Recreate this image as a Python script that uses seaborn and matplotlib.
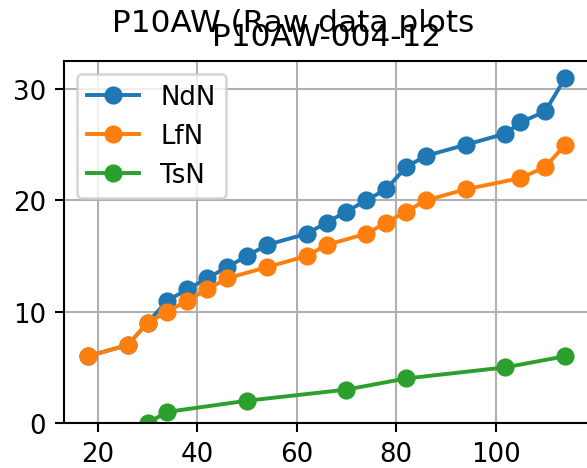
import matplotlib
matplotlib.use("Agg")
import matplotlib.pyplot as plt
import seaborn as sns
import pandas as pd

ndn_x = [18, 26, 30, 34, 38, 42, 46, 50, 54, 62, 66, 70, 74, 78, 82, 86, 94, 102, 105, 110, 114]
ndn_y = [6, 7, 9, 11, 12, 13, 14, 15, 16, 17, 18, 19, 20, 21, 23, 24, 25, 26, 27, 28, 31]

lfn_x = [18, 26, 30, 34, 38, 42, 46, 54, 62, 66, 74, 78, 82, 86, 94, 105, 110, 114]
lfn_y = [6, 7, 9, 10, 11, 12, 13, 14, 15, 16, 17, 18, 19, 20, 21, 22, 23, 25]

tsn_x = [30, 34, 50, 70, 82, 102, 114]
tsn_y = [0, 1, 2, 3, 4, 5, 6]

series_names = ["NdN", "LfN", "TsN"]
colors = ["#1f77b4", "#ff7f0e", "#2ca02c"]

DPI = 187
fig = plt.figure(figsize=(587 / DPI, 469 / DPI), dpi=DPI)
W, H = 587, 469
ax = fig.add_axes([64 / W, (H - 424) / H, (589 - 64) / W, (424 - 61.7) / H])

for name, xs, ys, c in zip(series_names, [ndn_x, lfn_x, tsn_x], [ndn_y, lfn_y, tsn_y], colors):
    df = pd.DataFrame({"x": xs, "y": ys})
    sns.lineplot(data=df, x="x", y="y", ax=ax, color=c, marker="o",
                 markersize=6, markeredgecolor=c, markeredgewidth=1.0,
                 linewidth=1.5, label=name)

ax.set_xlabel("")
ax.set_ylabel("")
ax.set_ylim(bottom=0)
ax.grid(True, color="#b0b0b0", linewidth=0.8)
ax.set_axisbelow(True)
ax.legend(loc="upper left")
ax.set_title("P10AW-004-12", fontsize=12)
fig.suptitle("P10AW (Raw data plots", fontsize=12)

fig.savefig("out.png", dpi=DPI)
